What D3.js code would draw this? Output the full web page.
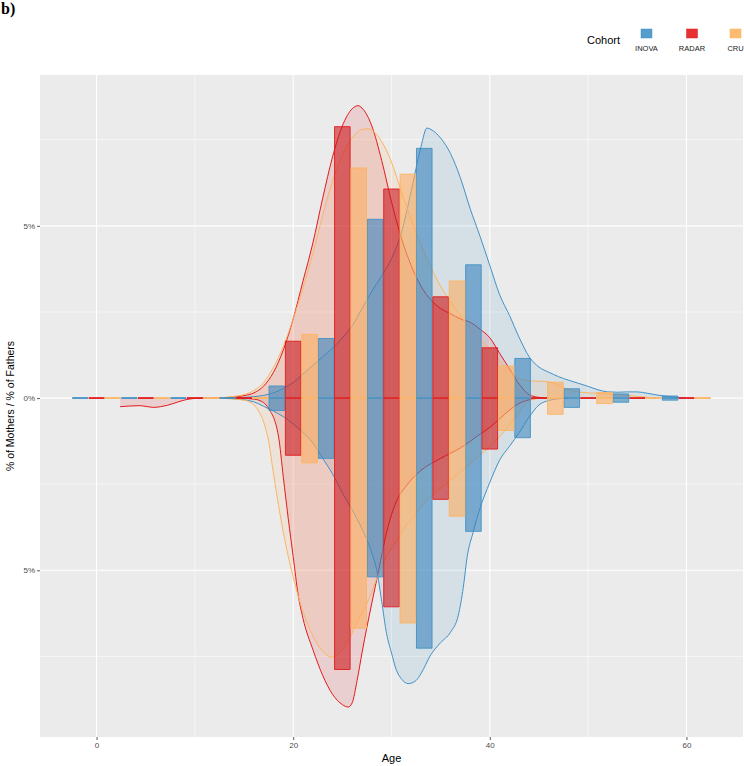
<!DOCTYPE html>
<html>
<head>
<meta charset="utf-8">
<script src="https://cdn.jsdelivr.net/npm/d3@7"></script>
<style>
  html, body { margin: 0; padding: 0; background: #fff; }
  svg { display: block; }
  text { font-family: "Liberation Sans", Arial, sans-serif; }
</style>
</head>
<body>
<svg id="chart" width="744" height="766"></svg>
<script>
// ---------------- DATA ----------------
const cohorts = ["INOVA", "RADAR", "CRU"];
const lineColors = { INOVA: "#4292c6", RADAR: "#e31a1c", CRU: "#fdb462" };
const barColors  = { INOVA: "#3a84bd", RADAR: "#cb181d", CRU: "#fdae61" };
const binCenters = [0, 5, 10, 15, 20, 25, 30, 35, 40, 45, 50, 55, 60];

// bar heights, % (mothers above, fathers below)
const inovaMothers = [0, 0, 0, 0, 0.35, 1.73, 5.19, 7.25, 3.87, 1.15, 0.27, 0.12, 0.06];
const inovaFathers = [0, 0, 0, 0, 0.36, 1.75, 5.19, 7.26, 3.87, 1.15, 0.27, 0.12, 0.06];
const radarMothers = [0, 0, 0, 0, 1.65, 7.88, 6.07, 2.94, 1.46, 0, 0, 0, 0];
const radarFathers = [0, 0, 0, 0, 1.66, 7.88, 6.06, 2.94, 1.48, 0, 0, 0, 0];
const cruMothers   = [0, 0, 0, 0, 1.85, 6.68, 6.50, 3.40, 0.93, 0.46, 0.16, 0, 0];
const cruFathers   = [0, 0, 0, 0, 1.88, 6.68, 6.53, 3.43, 0.94, 0.47, 0.16, 0, 0];

// density curves [age, %]
const inovaMotherDensity = [[13,0],[14,0.01],[15,0.02],[16,0.04],[17,0.08],[18,0.15],[19,0.28],[20,0.45],[21,0.7],[22,0.95],[23,1.2],[24,1.45],[25,1.75],[26,2.1],[27,2.6],[28,3.1],[29,3.55],[30,4.05],[31,4.8],[32,6.0],[33,7.3],[33.6,7.84],[34,7.8],[35,7.55],[36,7.1],[37,6.4],[38,5.5],[39,4.7],[40,3.85],[41,3.0],[42,2.4],[43,1.75],[44,1.2],[45,0.9],[46,0.75],[47,0.62],[48,0.52],[49,0.43],[50,0.34],[51,0.24],[52,0.18],[53,0.17],[54,0.18],[55,0.18],[56,0.14],[57,0.09],[58,0.05],[59,0.02],[60,0]];
const inovaFatherDensity = [[13,0],[14,-0.02],[15,-0.05],[16,-0.11],[17,-0.24],[18,-0.38],[19,-0.54],[20,-0.75],[21,-1.0],[22,-1.3],[23,-1.75],[24,-2.2],[25,-2.75],[26,-3.25],[27,-3.8],[28,-4.5],[28.5,-5.0],[29,-5.9],[29.5,-6.84],[30,-7.4],[30.5,-7.9],[31,-8.15],[31.7,-8.29],[32.5,-8.2],[33,-8.0],[34,-7.45],[35,-7.1],[36,-6.8],[36.8,-6.3],[37.3,-5.5],[37.7,-4.6],[38.3,-3.9],[39,-3.2],[40,-2.45],[41,-1.8],[42,-1.4],[43,-1.0],[44,-0.55],[45,-0.2],[46,-0.07],[47,-0.02],[48,0]];
const radarMotherDensity = [[12,0],[13,0.01],[14,0.03],[15,0.07],[16,0.15],[17,0.35],[18,0.75],[19,1.4],[20,2.3],[21,3.4],[22,4.5],[23,5.8],[24,7.0],[25,7.9],[26,8.4],[26.6,8.49],[27,8.42],[28,7.9],[29,6.9],[30,5.7],[31,4.65],[32,3.85],[33,3.25],[34,2.85],[35,2.6],[36,2.45],[37,2.3],[38,2.2],[39,2.0],[40,1.75],[41,1.3],[42,0.85],[43,0.4],[44,0.1],[45,0.02],[46,0]];
const radarFatherDensity = [[2.4,-0.25],[3.4,-0.23],[4.4,-0.22],[5.2,-0.25],[5.8,-0.27],[6.5,-0.25],[7.2,-0.21],[8.2,-0.12],[9.2,-0.04],[10,-0.01],[11,0],[14,0],[15,-0.01],[16,-0.03],[16.5,-0.06],[17.5,-0.3],[18.5,-1.1],[19,-2.3],[19.5,-3.5],[20,-4.6],[20.5,-5.7],[21,-6.4],[22,-7.3],[23,-8.05],[24,-8.6],[25,-8.9],[25.6,-8.97],[26,-8.85],[26.5,-8.2],[27,-7.4],[27.5,-6.65],[28,-5.95],[28.7,-5.0],[29.5,-3.9],[30.5,-3.0],[31.5,-2.55],[33,-2.1],[35,-1.75],[37,-1.45],[39,-1.05],[40,-0.85],[41,-0.6],[42,-0.35],[43,-0.15],[44,-0.05],[45,0]];
const cruMotherDensity = [[12,0],[13,0.02],[14,0.05],[15,0.1],[16,0.22],[17,0.45],[18,0.9],[19,1.5],[20,2.3],[21,3.2],[22,4.2],[23,5.3],[24,6.3],[25,7.05],[26,7.55],[27,7.8],[27.6,7.82],[28,7.78],[29,7.45],[30,6.85],[31,6.0],[32,5.2],[33,4.45],[34,3.8],[35,3.25],[36,2.8],[37,2.4],[38,2.05],[39,1.72],[40,1.42],[41,1.08],[42,0.78],[43,0.56],[44,0.5],[45,0.49],[46,0.47],[47,0.37],[48,0.24],[49,0.18],[50,0.15],[51,0.14],[52,0.12],[53,0.1],[54,0.08],[55,0.05],[56,0.02],[57,0]];
const cruFatherDensity = [[12,0],[13,-0.01],[14,-0.03],[15,-0.06],[15.5,-0.1],[16,-0.2],[16.5,-0.38],[17,-0.7],[17.5,-1.25],[18,-2.2],[19,-3.9],[20,-5.2],[21,-6.2],[22,-6.9],[23,-7.35],[23.9,-7.52],[24.5,-7.45],[25,-7.3],[25.8,-6.94],[26.5,-6.5],[27.5,-5.97],[28.7,-5.1],[29.5,-4.6],[30.5,-4.15],[31.5,-3.7],[32.5,-3.35],[33.5,-3.0],[34.5,-2.75],[35.9,-2.4],[37,-2.15],[38,-1.9],[39,-1.65],[40,-1.42],[41,-1.12],[42,-0.78],[43,-0.4],[44,-0.08],[45,0]];

const xTicks = [0, 20, 40, 60];
const xMinor = [10, 30, 50];
const yTicks = [-5, 0, 5];
const yMinor = [-7.5, -2.5, 2.5, 7.5];

// ---------------- CHART ----------------
const svg = d3.select("#chart");
const P = { left: 40, right: 743, top: 75, bottom: 737 };
const x = d3.scaleLinear().domain([-5.75, 65.75]).range([P.left, P.right]);
const y = d3.scaleLinear().domain([-9.84, 9.38]).range([P.bottom, P.top]);

svg.append("text").attr("x", 1).attr("y", 14)
  .style("font-family", "'Liberation Serif', 'Times New Roman', serif")
  .style("font-weight", "bold").style("font-size", "16px").text("b)");

svg.append("rect").attr("x", P.left).attr("y", P.top)
  .attr("width", P.right - P.left).attr("height", P.bottom - P.top).attr("fill", "#EBEBEB");

const grid = svg.append("g");
xMinor.forEach(v => grid.append("line").attr("x1", x(v)).attr("x2", x(v)).attr("y1", P.top).attr("y2", P.bottom).attr("stroke", "#fff").attr("stroke-width", 0.55));
yMinor.forEach(v => grid.append("line").attr("y1", y(v)).attr("y2", y(v)).attr("x1", P.left).attr("x2", P.right).attr("stroke", "#fff").attr("stroke-width", 0.55));
xTicks.forEach(v => grid.append("line").attr("x1", x(v)).attr("x2", x(v)).attr("y1", P.top).attr("y2", P.bottom).attr("stroke", "#fff").attr("stroke-width", 1.1));
yTicks.forEach(v => grid.append("line").attr("y1", y(v)).attr("y2", y(v)).attr("x1", P.left).attr("x2", P.right).attr("stroke", "#fff").attr("stroke-width", 1.1));

const densities = {
  INOVA: [inovaMotherDensity, inovaFatherDensity],
  RADAR: [radarMotherDensity, radarFatherDensity],
  CRU: [cruMotherDensity, cruFatherDensity]
};
const bars = {
  INOVA: [inovaMothers, inovaFathers],
  RADAR: [radarMothers, radarFathers],
  CRU: [cruMothers, cruFathers]
};

const area = d3.area().x(d => x(d[0])).y0(y(0)).y1(d => y(d[1])).curve(d3.curveMonotoneX);
const line = d3.line().x(d => x(d[0])).y(d => y(d[1])).curve(d3.curveMonotoneX);

const dens = svg.append("g");
cohorts.forEach(c => {
  densities[c].forEach(arr => {
    dens.append("path").attr("d", area(arr)).attr("fill", lineColors[c]).attr("fill-opacity", 0.13).attr("stroke", "none");
  });
});
cohorts.forEach(c => {
  densities[c].forEach(arr => {
    dens.append("path").attr("d", line(arr)).attr("fill", "none").attr("stroke", lineColors[c]).attr("stroke-width", 1);
  });
});

const binW = 5 / 3;
const barG = svg.append("g");
cohorts.forEach((c, k) => {
  const off = (k - 1) * binW;
  binCenters.forEach((b, i) => {
    const x0 = x(b + off - binW * 0.475), x1 = x(b + off + binW * 0.475);
    [bars[c][0][i], -bars[c][1][i]].forEach(v => {
      barG.append("path")
        .attr("d", `M${x0},${y(0)}H${x1}V${y(v)}H${x0}Z`)
        .attr("fill", barColors[c]).attr("fill-opacity", 0.6)
        .attr("stroke", lineColors[c]).attr("stroke-width", 0.9);
    });
  });
});

// axes
const xAxis = svg.append("g").attr("transform", `translate(0,${P.bottom})`)
  .call(d3.axisBottom(x).tickValues(xTicks).tickSize(3).tickPadding(2).tickFormat(d3.format("d")));
const yAxis = svg.append("g").attr("transform", `translate(${P.left},0)`)
  .call(d3.axisLeft(y).tickValues(yTicks).tickSize(3).tickPadding(2).tickFormat(d => Math.abs(d) + "%"));
[xAxis, yAxis].forEach(a => {
  a.select(".domain").remove();
  a.selectAll(".tick line").attr("stroke", "#333").attr("stroke-width", 0.8);
  a.selectAll(".tick text").attr("fill", "#4d4d4d").style("font-size", "8px").style("font-family", "'Liberation Sans', Arial, sans-serif");
});

svg.append("text").attr("x", (P.left + P.right) / 2).attr("y", 762).attr("text-anchor", "middle")
  .style("font-size", "11px").attr("fill", "#000").text("Age");
svg.append("text").attr("transform", `translate(14,${(P.top + P.bottom) / 2}) rotate(-90)`)
  .attr("text-anchor", "middle").style("font-size", "10.5px").attr("fill", "#000").text("% of Mothers / % of Fathers");

// legend
const leg = svg.append("g");
leg.append("text").attr("x", 587).attr("y", 44).style("font-size", "11px").text("Cohort");
const legX = { INOVA: 646.5, RADAR: 692, CRU: 735.5 };
cohorts.forEach(c => {
  leg.append("rect").attr("x", legX[c] - 5.5).attr("y", 29).attr("width", 11).attr("height", 9)
    .attr("fill", lineColors[c]).attr("fill-opacity", 0.9).attr("stroke", lineColors[c]).attr("stroke-width", 0.5);
  leg.append("text").attr("x", legX[c]).attr("y", 51).attr("text-anchor", "middle")
    .style("font-size", "7.5px").attr("fill", "#222").text(c);
});
</script>
</body>
</html>
